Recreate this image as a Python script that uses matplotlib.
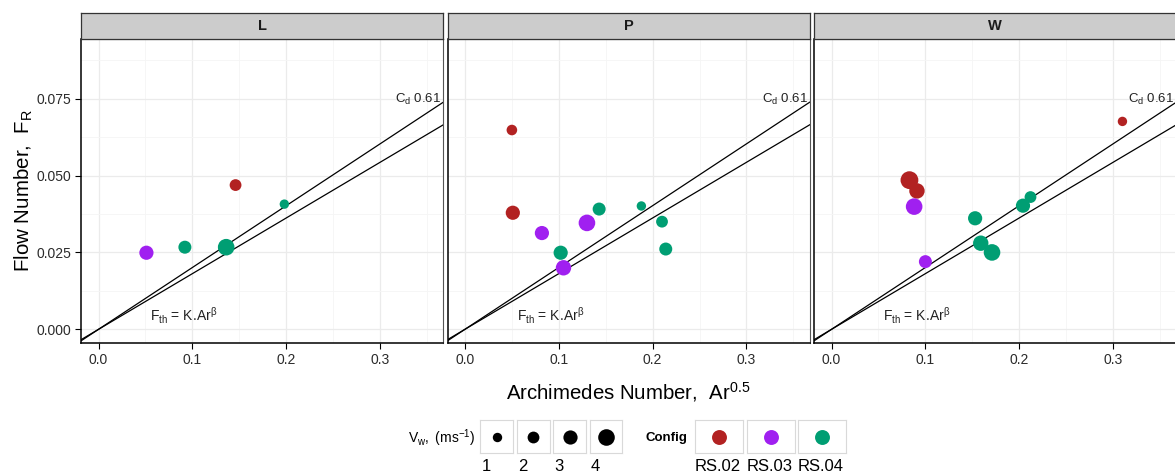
import matplotlib
matplotlib.use("Agg")
import matplotlib.pyplot as plt

plt.rcParams['font.family'] = ['Liberation Sans', 'DejaVu Sans']
plt.rcParams['mathtext.fontset'] = 'custom'
plt.rcParams['mathtext.rm'] = 'Liberation Sans'
plt.rcParams['mathtext.it'] = 'Liberation Sans:italic'
plt.rcParams['mathtext.bf'] = 'Liberation Sans:bold'

# data
panels = ["L", "P", "W"]
wall = ["L"] * 5 + ["P"] * 10 + ["W"] * 10
config = ["RS.03", "RS.04", "RS.04", "RS.02", "RS.04",
          "RS.02", "RS.02", "RS.03", "RS.03", "RS.04", "RS.03", "RS.04", "RS.04", "RS.04", "RS.04",
          "RS.02", "RS.02", "RS.02", "RS.03", "RS.03", "RS.04", "RS.04", "RS.04", "RS.04", "RS.04"]
ar = [0.051, 0.092, 0.136, 0.146, 0.198,
      0.050, 0.051, 0.082, 0.130, 0.102, 0.105, 0.143, 0.188, 0.210, 0.214,
      0.310, 0.083, 0.091, 0.088, 0.100, 0.153, 0.159, 0.171, 0.204, 0.212]
fr = [0.0249, 0.0267, 0.0267, 0.0469, 0.0407,
      0.0648, 0.0379, 0.0313, 0.0346, 0.0249, 0.0200, 0.0391, 0.0401, 0.0350, 0.0261,
      0.0676, 0.0485, 0.0450, 0.0399, 0.0220, 0.0361, 0.0280, 0.0250, 0.0402, 0.0430]
vw = [3, 2.5, 4, 2, 1,
      1.5, 3, 3, 4, 3, 3.5, 2.5, 1, 2, 2.5,
      1, 4.5, 3.5, 4, 2.5, 3, 3.5, 4, 3, 2]

config_levels = ["RS.02", "RS.03", "RS.04"]
config_colors = {"RS.02": "#B22222", "RS.03": "#A020F0", "RS.04": "#009E73"}
size_breaks = [1, 2, 3, 4]

cd_slope = 0.201   # C_d 0.61 line
fit_slope = 0.181  # F_th = K.Ar^beta

xticks = [0.0, 0.1, 0.2, 0.3]
yticks = [0.000, 0.025, 0.050, 0.075]


def msize(v):
    d = 7 + 2.4 * v  # diameter in px
    return (d * 0.72) ** 2


W, H = 1175, 473


def box(l, t, r, b):
    return [l / W, 1 - b / H, (r - l) / W, (b - t) / H]


fig = plt.figure(figsize=(W / 100, H / 100), dpi=100)

lefts = [81.3, 447.7, 814.3]
pw = 362.0
for i, p in enumerate(panels):
    l = lefts[i]
    ax = fig.add_axes(box(l, 39.3, l + pw, 343.3))
    ax.set_xlim(-0.0184, 0.3674)
    ax.set_ylim(-0.00455, 0.0943)
    ax.set_xticks(xticks)
    ax.set_xticklabels([f"{t:.1f}" for t in xticks])
    ax.set_xticks([0.05, 0.15, 0.25, 0.35], minor=True)
    ax.set_yticks(yticks)
    ax.set_yticks([0.0125, 0.0375, 0.0625, 0.0875], minor=True)
    if i == 0:
        ax.set_yticklabels([f"{t:.3f}" for t in yticks])
    else:
        ax.tick_params(axis='y', which='both', left=False, labelleft=False)
    ax.tick_params(axis='both', which='major', length=4, width=0.8, color='black',
                   labelsize=10, labelcolor='#2b2b2b', pad=3)
    ax.tick_params(axis='both', which='minor', length=0)
    ax.grid(True, which='major', color='#EBEBEB', lw=0.9)
    ax.grid(True, which='minor', color='#F5F5F5', lw=0.6)
    ax.set_axisbelow(True)
    for s in ax.spines.values():
        s.set_color('#555555')
        s.set_linewidth(0.8)
    ax.spines['left'].set_color('black')
    ax.spines['bottom'].set_color('black')
    ax.spines['left'].set_linewidth(1.1)
    ax.spines['bottom'].set_linewidth(1.1)

    ax.axline((0, 0), slope=cd_slope, color='black', lw=0.9)
    ax.axline((0, 0), slope=fit_slope, color='black', lw=0.9)

    idx = [k for k in range(len(wall)) if wall[k] == p]
    ax.scatter([ar[k] for k in idx], [fr[k] for k in idx],
               s=[msize(vw[k]) for k in idx],
               c=[config_colors[config[k]] for k in idx],
               linewidths=0, zorder=3)

    ax.text(0.341, 0.0749, r"$\mathregular{C_d}$ 0.61", ha='center', va='center',
            fontsize=9.5, color='#222222')
    ax.text(0.091, 0.0045, r"$\mathregular{F_{th}}$ = K.Ar$^{\mathregular{β}}$",
            ha='center', va='center', fontsize=10, color='#222222')

    sax = fig.add_axes(box(l, 12.7, l + pw, 39.3))
    sax.set_facecolor('#CCCCCC')
    sax.set_xticks([])
    sax.set_yticks([])
    for s in sax.spines.values():
        s.set_color('#333333')
        s.set_linewidth(0.9)
    sax.text(0.5, 0.5, p, ha='center', va='center', fontsize=10.5, fontweight='bold',
             color='#1A1A1A', transform=sax.transAxes)

fig.text(628 / W, 1 - 392 / H, r"Archimedes Number,  Ar$^{\mathregular{0.5}}$",
         ha='center', va='center', fontsize=14.7)
fig.text(24 / W, 1 - 190 / H, r"Flow Number,  F$_{\mathregular{R}}$",
         ha='center', va='center', rotation=90, fontsize=14.8)

# legend: size
fig.text(475 / W, 1 - 438 / H, r"$\mathregular{V_{w},\ (ms^{-1})}$", ha='right', va='center',
         fontsize=10)
size_lefts = [480, 516.5, 553, 589.5]
for k, v in enumerate(size_breaks):
    l = size_lefts[k]
    kax = fig.add_axes(box(l, 420, l + 33, 453))
    kax.set_xlim(0, 1)
    kax.set_ylim(0, 1)
    kax.set_xticks([])
    kax.set_yticks([])
    for s in kax.spines.values():
        s.set_color('#D9D9D9')
        s.set_linewidth(0.8)
    kax.scatter([0.5], [0.5], s=msize(v), c='black', linewidths=0)
    fig.text((l + 1.5) / W, 1 - 466 / H, str(v), ha='left', va='center', fontsize=12)

# legend: config
fig.text(645 / W, 1 - 438 / H, "Config", ha='left', va='center', fontsize=9.5,
         fontweight='bold')
cfg_lefts = [695, 746.5, 798]
for k, c in enumerate(config_levels):
    l = cfg_lefts[k]
    kax = fig.add_axes(box(l, 420, l + 48, 453))
    kax.set_xlim(0, 1)
    kax.set_ylim(0, 1)
    kax.set_xticks([])
    kax.set_yticks([])
    for s in kax.spines.values():
        s.set_color('#D9D9D9')
        s.set_linewidth(0.8)
    kax.scatter([0.5], [0.5], s=msize(3.3), c=config_colors[c], linewidths=0)
    fig.text((l + 23) / W, 1 - 466 / H, c, ha='center', va='center', fontsize=12)

fig.savefig("out.png", dpi=100)
